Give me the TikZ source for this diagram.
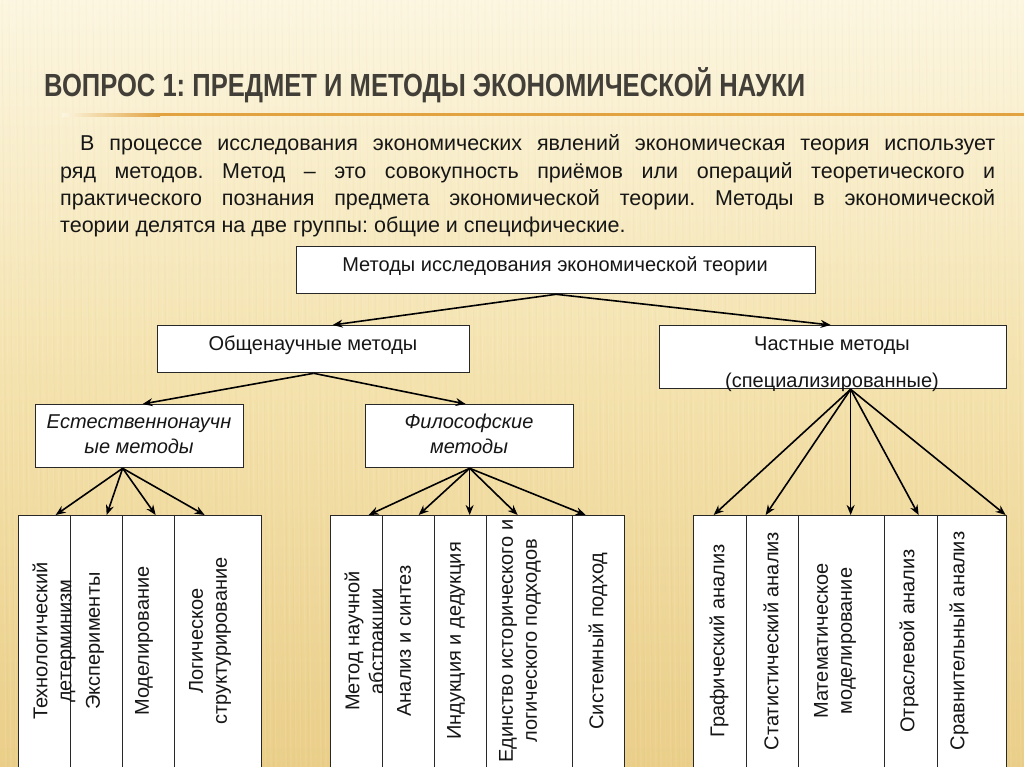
\documentclass[tikz,border=0pt]{standalone}
\usepackage{graphicx}
\usepackage{fontspec}
\setmainfont{Liberation Sans}
\usetikzlibrary{arrows.meta,calc}
\definecolor{bgtop}{RGB}{252,246,224}
\definecolor{bgmid}{RGB}{244,226,172}
\definecolor{bgbot}{RGB}{234,206,136}
\definecolor{rulec}{RGB}{226,162,64}
\definecolor{titlec}{RGB}{66,62,56}
\definecolor{txt}{RGB}{22,22,22}
\definecolor{edge}{RGB}{40,40,40}
\frenchspacing
\begin{document}
\begin{tikzpicture}[x=1pt,y=-1pt,
  box/.style={draw=edge, line width=1.3pt, fill=white, inner sep=0pt, anchor=north west},
  lbl/.style={font=\fontsize{20}{24}\selectfont, text=txt, inner sep=0pt},
  ilbl/.style={lbl, font=\fontsize{20}{25}\selectfont\itshape},
  para/.style={font=\fontsize{21.5}{27}\selectfont\frenchspacing, text=txt, inner sep=0pt, anchor=base west},
  arr/.style={-{Stealth[length=10pt,width=8pt]}, line width=1.6pt, draw=black},
  col/.style={box, minimum height=300pt},
  vtxt/.style={lbl, rotate=90, align=center}]
\useasboundingbox (0,0) rectangle (1024,767);
\clip (0,0) rectangle (1024,767);
% background
\shade[top color=bgtop, bottom color=bgbot, middle color=bgmid] (0,0) rectangle (1024,767);
\foreach \i in {0,5,...,1024} {\draw[white, opacity=0.10, line width=1.2pt] (\i,0) -- (\i+6,767);}
\foreach \i in {2,9,...,1024} {\draw[brown, opacity=0.035, line width=1pt] (\i,0) -- (\i+6,767);}
% title
\node[anchor=base west, inner sep=0pt, text=titlec] (title) at (44,97)
  {\resizebox{761pt}{\height}{\fontsize{32}{32}\selectfont\bfseries ВОПРОС 1: ПРЕДМЕТ И МЕТОДЫ ЭКОНОМИЧЕСКОЙ НАУКИ}};
\shade[left color=bgtop, right color=rulec] (62,113.5) rectangle (160,116.5);
\fill[rulec] (160,113.5) rectangle (1024,116.5);
% paragraph
\node[para] (p1) at (80,151) {\makebox[915pt][s]{В процессе исследования экономических явлений экономическая теория использует}};
\node[para] (p2) at (60,179) {\makebox[935pt][s]{ряд методов. Метод – это совокупность приёмов или операций теоретического и}};
\node[para] (p3) at (60,206) {\makebox[935pt][s]{практического познания предмета экономической теории. Методы в экономической}};
\node[para] (p4) at (60,233) {теории делятся на две группы: общие и специфические.};
% boxes
\node[box, minimum width=519pt, minimum height=47pt] (b1) at (296,246) {};
\node[lbl, anchor=base] (t1) at (555,271) {Методы исследования экономической теории};
\node[box, minimum width=312pt, minimum height=47pt] (b2) at (157,325) {};
\node[lbl, anchor=base] (t2) at (313,350) {Общенаучные методы};
\node[box, minimum width=347pt, minimum height=63pt] (b3) at (659,325) {};
\node[lbl, anchor=base] (t3a) at (832,350) {Частные методы};
\node[lbl, anchor=base] (t3b) at (832,387) {(специализированные)};
\node[box, minimum width=208pt, minimum height=63pt] (b4) at (35,404) {};
\node[ilbl, anchor=base] (t4a) at (139,428) {Естественнонаучн};
\node[ilbl, anchor=base] (t4b) at (139,453) {ые методы};
\node[box, minimum width=208pt, minimum height=63pt] (b5) at (365,404) {};
\node[ilbl, anchor=base] (t5a) at (469,428) {Философские};
\node[ilbl, anchor=base] (t5b) at (469,453) {методы};
% columns left
\node[col, minimum width=52pt] (L1) at (18,515) {};
\node[col, minimum width=52pt] (L2) at (70,515) {};
\node[col, minimum width=52pt] (L3) at (122,515) {};
\node[col, minimum width=87pt] (L4) at (174,515) {};
% columns middle
\node[col, minimum width=52pt] (M1) at (330,515) {};
\node[col, minimum width=52pt] (M2) at (382,515) {};
\node[col, minimum width=52pt] (M3) at (434,515) {};
\node[col, minimum width=86pt] (M4) at (486,515) {};
\node[col, minimum width=52pt] (M5) at (572,515) {};
% columns right
\node[col, minimum width=53pt] (R1) at (693,515) {};
\node[col, minimum width=52pt] (R2) at (746,515) {};
\node[col, minimum width=86pt] (R3) at (798,515) {};
\node[col, minimum width=53pt] (R4) at (884,515) {};
\node[col, minimum width=69pt] (R5) at (937,515) {};
% column texts
\node[vtxt] (vL1) at (54,641) {Технологический\\детерминизм};
\node[vtxt] (vL2) at (95,641) {Эксперименты};
\node[vtxt] (vL3) at (144,641) {Моделирование};
\node[vtxt] (vL4) at (210,641) {Логическое\\структурирование};
\begin{scope}
\clip (330,515) rectangle (382,767);
\node[vtxt] (vM1) at (366,641) {Метод научной\\абстракции};
\end{scope}
\node[vtxt] (vM2) at (404,641) {Анализ и синтез};
\node[vtxt] (vM3) at (456,641) {Индукция и дедукция};
\node[vtxt] (vM4) at (520,641) {Единство исторического и\\логического подходов};
\node[vtxt] (vM5) at (598,641) {Системный подход};
\node[vtxt] (vR1) at (719,641) {Графический анализ};
\node[vtxt] (vR2) at (771,641) {Статистический анализ};
\node[vtxt] (vR3) at (835,641) {Математическое\\моделирование};
\node[vtxt] (vR4) at (909,641) {Отраслевой анализ};
\node[vtxt] (vR5) at (959,641) {Сравнительный анализ};
% arrows
\draw[arr] (b1.south) -- ([xshift=19pt]b2.north);
\draw[arr] (b1.south) -- ([xshift=-2.5pt]b3.north);
\draw[arr] (b2.south) -- ([xshift=3pt]b4.north);
\draw[arr] (b2.south) -- ([xshift=-4pt]b5.north);
\coordinate (s4) at ([xshift=-17pt]b4.south);
\foreach \t/\d in {L1/11,L2/10,L3/7,L4/-13.5} {\draw[arr] (s4) -- ([xshift=\d pt]\t.north);}
\foreach \t/\d in {M1/12,M2/10,M3/9,M4/-12,M5/-13} {\draw[arr] (b5.south) -- ([xshift=\d pt]\t.north);}
\coordinate (s3) at ([xshift=17.5pt]b3.south);
\foreach \t/\d in {R1/-6.5,R2/-7,R3/9,R4/7.5,R5/33.5} {\draw[arr] (s3) -- ([xshift=\d pt]\t.north);}
\end{tikzpicture}
\end{document}
